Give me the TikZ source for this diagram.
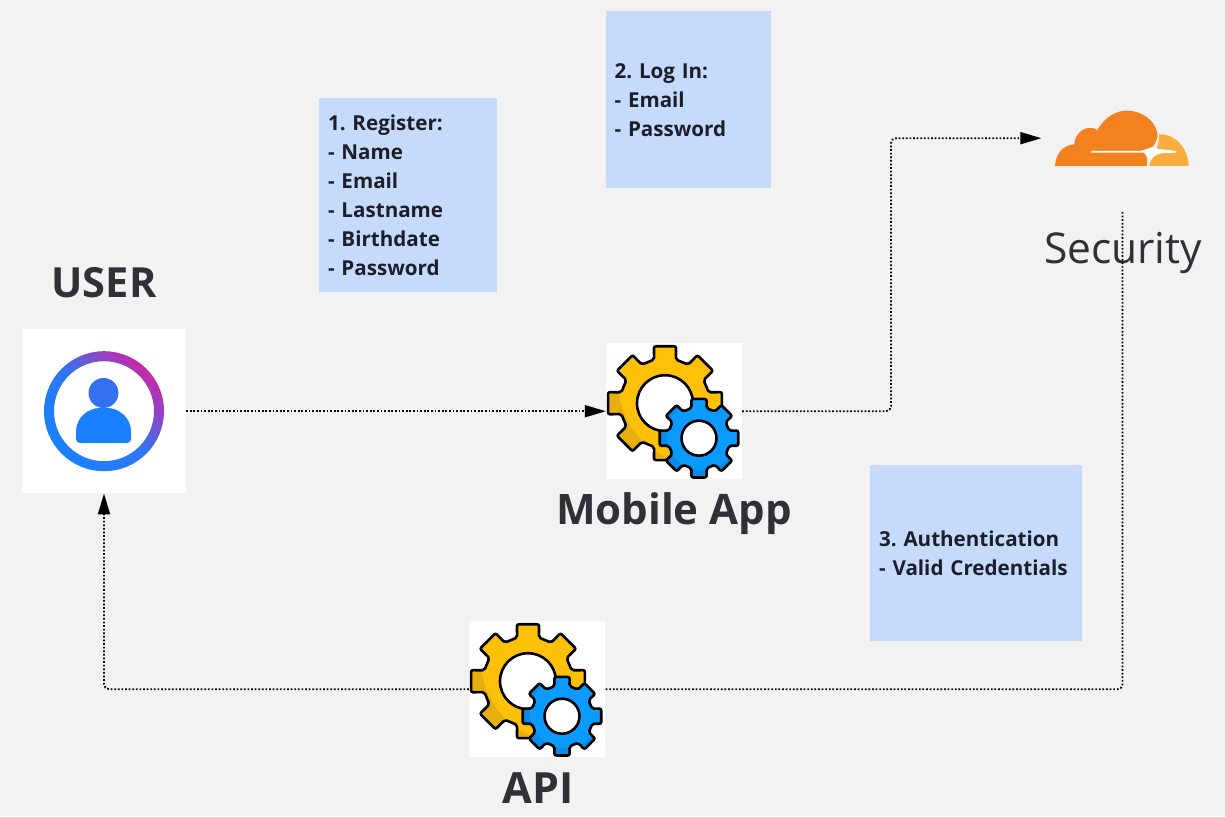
\documentclass[tikz,border=0pt]{standalone}
\usepackage{fontspec}
\setmainfont{Open Sans}
\usetikzlibrary{positioning,arrows.meta}
\definecolor{pagegray}{HTML}{F2F2F2}
\definecolor{notefill}{HTML}{C6DAFC}
\definecolor{labelink}{HTML}{2F3038}
\definecolor{noteink}{HTML}{1C1F2A}
\definecolor{gearyellow}{HTML}{FFC107}
\definecolor{geardark}{HTML}{E6AE0E}
\definecolor{gearblue}{HTML}{0B9BFF}
\definecolor{gearbluedark}{HTML}{0A8CE6}
\definecolor{userblue}{HTML}{1A80FF}
\definecolor{headblue}{HTML}{3570EE}
\definecolor{usermagenta}{HTML}{C828A8}
\definecolor{cloudorange}{HTML}{F48120}
\definecolor{cloudlight}{HTML}{FAAD3F}
% one toothed wheel: root radius, tip radius
\newcommand{\wheelpath}[2]{(22.5:#1) \foreach \a in {45,90,...,360} { -- (\a-14:#1) -- (\a-11:#2) -- (\a+11:#2) -- (\a+14:#1) } -- cycle}
\tikzset{
  iconbox/.style = {fill=white, minimum width=#1, minimum height=#1, inner sep=0pt},
  notebox/.style = {fill=notefill, text=noteink, font=\fontsize{20.6}{29}\selectfont\bfseries\frenchspacing, align=left, inner xsep=9pt, inner ysep=0pt},
  biglabel/.style = {text=labelink, inner sep=0pt, font=\fontsize{#1}{#1}\selectfont\bfseries},
  flow/.style = {line width=1.8pt, dash pattern=on 1.7pt off 1.9pt, rounded corners=5pt},
  flowtip/.style = {flow, -{Triangle[length=21pt,width=12pt]}},
  gears/.pic = {
    \begin{scope}[shift={(-9,-8)}, line width=2.6pt, rounded corners=2pt]
      \fill[geardark] \wheelpath{45}{58};
      \begin{scope}
        \clip \wheelpath{45}{58};
        \fill[gearyellow] (37,-22) circle (84);
      \end{scope}
      \draw \wheelpath{45}{58};
      \draw[fill=white] (0,0) circle (28);
    \end{scope}
    \begin{scope}[shift={(25,27)}, line width=2.6pt, rounded corners=2pt]
      \fill[gearbluedark] \wheelpath{31}{40};
      \begin{scope}
        \clip \wheelpath{31}{40};
        \fill[gearblue] (3,-3) circle (35);
      \end{scope}
      \draw \wheelpath{31}{40};
      \draw[fill=white] (0,0) circle (17.5);
    \end{scope}
  }
}
\begin{document}
\begin{tikzpicture}[x=1pt, y=-1pt]
  \fill[pagegray] (0,0) rectangle (1225,816);
  \useasboundingbox (0,0) rectangle (1225,816);

  \node[iconbox=164pt] (n_user) at (104,411.2) {};
  \node[iconbox=136pt] (n_app) at (674,411.2) {};
  \node[iconbox=136pt] (n_api) at (537,689.2) {};
  \node[minimum width=135pt, minimum height=58pt, inner sep=0pt] (n_cloud) at (1122,138.2) {};

  \node[notebox, text width=160pt, minimum height=194pt] (n_register) at (408,195.2) {1. Register:\\- Name\\- Email\\- Lastname\\- Birthdate\\- Password};
  \node[notebox, text width=147pt, minimum height=177pt] (n_login) at (688,99.7) {2. Log In:\\- Email\\- Password};
  \node[notebox, text width=194pt, minimum height=176pt] (n_auth) at (976,553.2) {3. Authentication\\- Valid Credentials};

  \node[biglabel=41.5, above=31pt of n_user] (n_userlabel) {USER};
  \node[biglabel=42, below=13pt of n_app] (n_applabel) {Mobile App};
  \node[biglabel=43, below=15pt of n_api, xshift=1pt] (n_apilabel) {API};
  \node[text=labelink, inner sep=0pt, font=\fontsize{42.5}{42.5}\selectfont, below=65pt of n_cloud, xshift=1pt] (n_security) {Security};
  \coordinate (n_secout) at (1122.5,212);

  % user icon
  \shade[even odd rule, shading=axis, bottom color=userblue, top color=usermagenta, middle color=userblue!88!usermagenta, shading angle=-45]
    (n_user) circle (60) (n_user) circle (50);
  \fill[headblue] (103.5,393) circle (15);
  \fill[userblue, rounded corners=4pt] (76,443) -- (76,435) .. controls (76,418) and (88,408) .. (103.5,408) .. controls (119,408) and (131,418) .. (131,435) -- (131,443) -- cycle;

  \pic at (n_app) {gears};
  \pic at (n_api) {gears};

  % cloud icon
  \begin{scope}[shift={(1020,90)}, x=0.3333pt, y=-0.3333pt]
    \fill[cloudorange] (105,228) .. controls (107,190) and (130,165) .. (163,163)
      .. controls (163,130) and (200,100) .. (232,120)
      .. controls (255,80) and (290,62) .. (320,62)
      .. controls (365,62) and (405,90) .. (413,132)
      .. controls (412,150) and (405,165) .. (395,172)
      -- (370,186) .. controls (382,195) and (384,215) .. (380,228) -- cycle;
    \fill[cloudlight] (417,133) .. controls (465,130) and (505,175) .. (506,228) -- (388,228)
      .. controls (392,205) and (405,192) .. (425,190) -- (468,188) .. controls (452,182) and (425,182) .. (410,175) .. controls (415,160) and (418,148) .. (417,133) -- cycle;
    \fill[white] (214,183) -- (362,183) -- (395,172) -- (410,176) -- (468,183) -- (468,188) -- (422,189) -- (388,206) -- (372,188) -- (214,188) -- cycle;
  \end{scope}

  \draw[flowtip] (n_user.east) -- (n_app.west);
  \draw[flowtip, shorten >=13pt] (n_app.east) -- (891,411.2) -- (891,138.2) -- (n_cloud.west);
  \draw[flow] (n_secout) |- (n_api.east);
  \draw[flowtip] (n_api.west) -| (n_user.south);
\end{tikzpicture}
\end{document}
